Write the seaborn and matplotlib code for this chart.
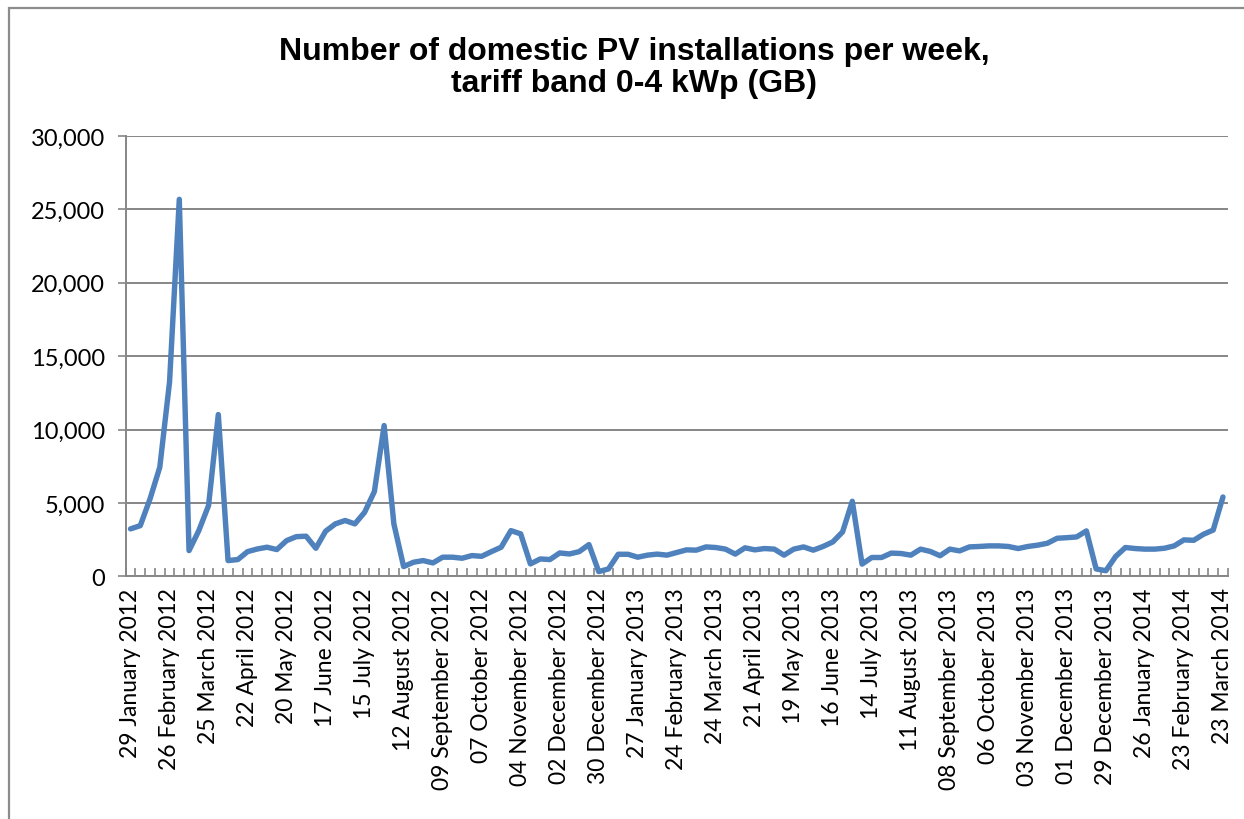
import numpy as np
import pandas as pd
import seaborn as sns
from matplotlib import pyplot as plt
from matplotlib.patches import Rectangle
from matplotlib.ticker import FuncFormatter, FixedLocator

sns.set_theme(style="white")
plt.rcParams['font.family'] = ['Lato', 'DejaVu Sans']
plt.rcParams['text.color'] = 'black'

# weekly installations, week starting 29 January 2012
weeks = pd.date_range("2012-01-29", periods=113, freq="7D")
installs = [
    3230, 3450, 5270, 7430, 13230, 25680, 1750, 3110, 4820, 11020,
    1070, 1140, 1680, 1860, 1980, 1820, 2430, 2700, 2730, 1910,
    3070, 3570, 3800, 3570, 4360, 5770, 10270, 3570, 660, 955,
    1070, 910, 1300, 1300, 1230, 1410, 1360, 1680, 1980, 3110,
    2890, 840, 1180, 1140, 1590, 1520, 1680, 2160, 320, 500,
    1500, 1500, 1300, 1440, 1510, 1440, 1620, 1800, 1780, 2000,
    1960, 1850, 1510, 1940, 1800, 1890, 1850, 1440, 1850, 2000,
    1780, 2030, 2340, 3020, 5110, 830, 1280, 1280, 1580, 1550,
    1440, 1850, 1690, 1400, 1850, 1730, 2000, 2030, 2070, 2070,
    2030, 1890, 2030, 2120, 2250, 2590, 2630, 2680, 3090, 500,
    380, 1350, 1960, 1890, 1850, 1850, 1910, 2070, 2480, 2450,
    2860, 3150, 5400,
]
week_labels = [d.strftime("%d %B %Y") for d in weeks]
title = "Number of domestic PV installations per week,\ntariff band 0-4 kWp (GB)"

df = pd.DataFrame({"week": np.arange(len(weeks)), "installs": installs})

grey = "#868686"
fig = plt.figure(figsize=(12.44, 8.2), dpi=100)
ax = fig.add_axes([0.101, 0.296, 0.886, 0.537])

sns.lineplot(data=df, x="week", y="installs", ax=ax, color="#4F81BD", linewidth=3.9)

ax.set_xlim(-0.5, len(weeks) - 0.5)
ax.set_ylim(0, 30000)
ax.yaxis.set_major_locator(FixedLocator(range(0, 30001, 5000)))
ax.yaxis.set_major_formatter(FuncFormatter(lambda v, p: f"{int(v):,}"))
ax.grid(axis="y", color=grey, linewidth=1.4)
ax.set_axisbelow(True)

ax.set_xticks(np.arange(0, len(weeks), 4))
ax.set_xticklabels(week_labels[::4], rotation=90, fontsize=16.5)
ax.set_xticks(np.arange(-0.5, len(weeks), 1), minor=True)
ax.tick_params(axis="x", which="major", length=0, pad=8, labelcolor="black")
ax.tick_params(axis="x", which="minor", direction="in", length=6, width=1.2, color=grey, bottom=True)
ax.tick_params(axis="y", direction="out", length=6, width=1.2, color=grey, labelsize=17,
               labelcolor="black", left=True, pad=9)
ax.set_xlabel("")
ax.set_ylabel("")

for side in ["top", "right"]:
    ax.spines[side].set_visible(False)
for side in ["left", "bottom"]:
    ax.spines[side].set_color(grey)
    ax.spines[side].set_linewidth(1.4)

fig.text(0.51, 0.917, title, ha="center", va="center", fontsize=23, fontweight="bold",
         family=["Liberation Sans", "DejaVu Sans"], linespacing=1.05, color="black")

# chart border, cut off at right and bottom
fig.patches.append(Rectangle((9 / 1244, -0.1), 1.2, 0.1 + (820 - 9) / 820, transform=fig.transFigure,
                             fill=False, edgecolor="#8c8c8c", linewidth=1.6))

plt.savefig("out.png", dpi=100)
